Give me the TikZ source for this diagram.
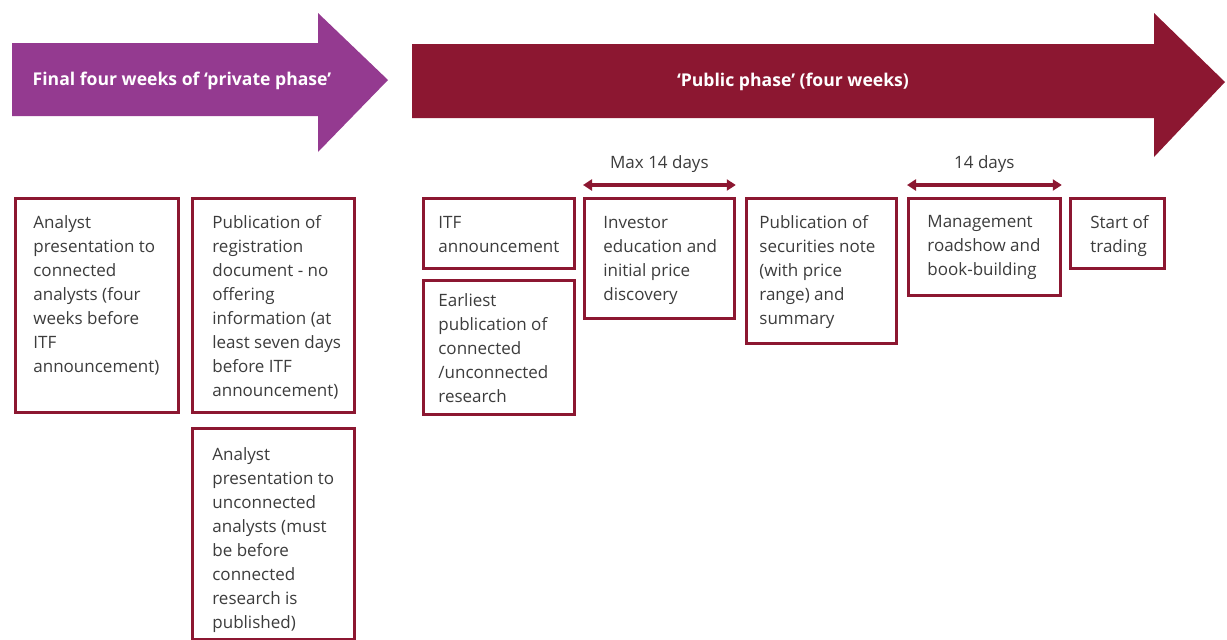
\documentclass[tikz,border=0pt]{standalone}
\usepackage{fontspec}
\setmainfont{Open Sans}
\usetikzlibrary{arrows.meta}
\definecolor{privpurple}{HTML}{943A90}
\definecolor{pubred}{HTML}{8C1731}
\definecolor{txtgray}{HTML}{3C3C3C}
\tikzset{
  stepbox/.style={draw=pubred, line width=2.8pt, fill=white, inner sep=0pt,
    anchor=north west, font=\fontsize{17}{24}\selectfont, text=txtgray},
  spanarrow/.style={draw=pubred, line width=3.2pt,
    {Triangle[length=9pt,width=11pt]}-{Triangle[length=9pt,width=11pt]}},
  spanlabel/.style={font=\fontsize{17}{20}\selectfont, text=txtgray, inner sep=0pt},
  phaselabel/.style={font=\bfseries\fontsize{17.6}{20}\selectfont, text=white, inner sep=0pt}
}
% name, x, y, width, height, left pad, top pad, lines
\newcommand{\stepnode}[8]{%
  \node[stepbox] (#1) at (#2,#3)
    {\parbox[t][#5pt][t]{#4pt}{\vspace*{#7pt}\hspace*{#6pt}\begin{tabular}[t]{@{}l@{}}#8\end{tabular}}};}
\begin{document}
\begin{tikzpicture}[x=1pt,y=-1pt]
\useasboundingbox (0,0) rectangle (1227,640);
% phase arrows
\fill[privpurple] (12,43) -- (318,43) -- (318,13) -- (388,80) -- (318,152) -- (318,116) -- (12,116) -- cycle;
\node[phaselabel] (privlabel) at (182,81) {Final four weeks of ‘private phase’};
\fill[pubred] (412,44) -- (1154,44) -- (1154,13) -- (1225,82) -- (1154,157) -- (1154,118) -- (412,118) -- cycle;
\node[phaselabel] (publabel) at (793,82) {‘Public phase’ (four weeks)};
% boxes
\stepnode{conn}{14}{197}{163}{214}{18}{13}{Analyst\\presentation to\\connected\\analysts (four\\weeks before\\ITF\\announcement)}
\stepnode{reg}{191}{197}{162}{214}{20}{13}{Publication of\\registration\\document - no\\offering\\information (at\\least seven days\\before ITF\\announcement)}
\stepnode{unconn}{191}{427}{162}{211}{20}{15}{Analyst\\presentation to\\unconnected\\analysts (must\\be before\\connected\\research is\\published)}
\stepnode{itf}{422}{197}{151}{70}{15}{13}{ITF\\announcement}
\stepnode{earl}{422}{279}{151}{134}{15}{9}{Earliest\\publication of\\connected\\/unconnected\\research}
\stepnode{inv}{583}{197}{150}{120}{19}{13}{Investor\\education and\\initial price\\discovery}
\stepnode{secn}{745}{197}{150}{145}{13}{13}{Publication of\\securities note\\(with price\\range) and\\summary}
\stepnode{mgmt}{907}{197}{152}{97}{19}{12}{Management\\roadshow and\\book-building}
\stepnode{trade}{1069}{197}{94}{70}{20}{13}{Start of\\trading}
% spans
\draw[spanarrow] ([yshift=12pt]inv.north west) -- ([yshift=12pt]inv.north east);
\node[spanlabel] (maxlbl) at ([yshift=33pt]inv.north) {Max 14 days};
\draw[spanarrow] ([yshift=12pt]mgmt.north west) -- ([yshift=12pt]mgmt.north east);
\node[spanlabel] (dayslbl) at ([yshift=33pt]mgmt.north) {14 days};
\end{tikzpicture}
\end{document}
